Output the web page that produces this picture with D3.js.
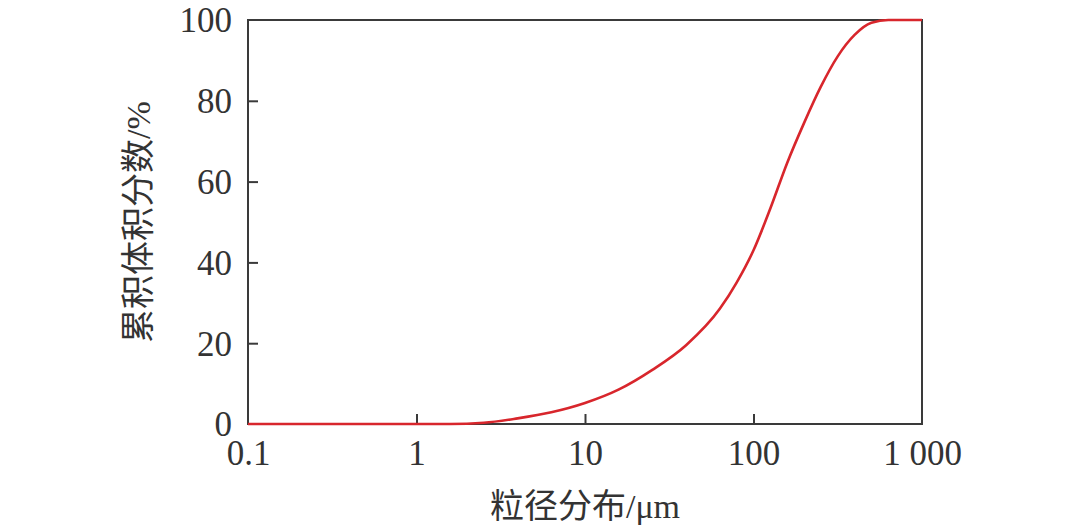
<!DOCTYPE html>
<html><head><meta charset="utf-8">
<script src="https://cdn.jsdelivr.net/npm/d3@7"></script>
<style>
body{margin:0;background:#fff;}
svg text{font-family:"Liberation Serif","Noto Sans CJK SC",serif;fill:#333;}
</style></head>
<body><svg id="c" width="1080" height="532"></svg>
<script>
const sizes = [0.1, 1, 1.58, 2.51, 3.98, 6.31, 10, 15.8, 25.1, 39.8, 63.1, 79.4, 100, 126, 158, 200, 251, 316, 398, 501, 631, 1000];
const cumulative = [0, 0, 0, 0.3, 1.4, 2.9, 5.2, 8.5, 13.4, 19.5, 28.5, 35, 43, 53.4, 64.5, 74.6, 83.5, 91, 96.3, 99.3, 100, 100];
const xTicks = [0.1, 1, 10, 100, 1000];
const xTickLabels = ["0.1", "1", "10", "100", "1 000"];
const yTicks = [0, 20, 40, 60, 80, 100];
const xTitle = "粒径分布/μm";
const yTitle = "累积体积分数/%";

const svg = d3.select("#c");
const L = 248, R = 922, T = 20, B = 424;
const x = d3.scaleLog().domain([0.1, 1000]).range([L, R]);
const y = d3.scaleLinear().domain([0, 100]).range([B, T]);
const axisColor = "#3a3a3a";

svg.append("rect").attr("x", L).attr("y", T).attr("width", R - L).attr("height", B - T)
  .attr("fill", "none").attr("stroke", axisColor).attr("stroke-width", 2);

const xa = svg.append("g").attr("transform", `translate(0,${B})`)
  .call(d3.axisBottom(x).tickValues(xTicks).tickSizeInner(-10).tickSizeOuter(0).tickPadding(16)
    .tickFormat((d, i) => xTickLabels[i]));
xa.select(".domain").remove();
xa.selectAll(".tick line").attr("stroke", axisColor).attr("stroke-width", 2)
  .filter(d => d === 0.1 || d === 1000).remove();
xa.selectAll(".tick text").attr("font-size", 35).attr("fill", "#333")
  .style("font-family", "'Liberation Serif',serif").attr("dy", "0.71em");

const ya = svg.append("g").attr("transform", `translate(${L},0)`)
  .call(d3.axisLeft(y).tickValues(yTicks).tickSizeInner(-10).tickSizeOuter(0).tickPadding(16));
ya.select(".domain").remove();
ya.selectAll(".tick line").attr("stroke", axisColor).attr("stroke-width", 2)
  .filter(d => d === 0 || d === 100).remove();
ya.selectAll(".tick text").attr("font-size", 35).attr("fill", "#333")
  .style("font-family", "'Liberation Serif',serif").attr("dy", "0.34em");

const line = d3.line().x((d, i) => x(sizes[i])).y(d => y(d)).curve(d3.curveMonotoneX);
svg.append("path").datum(cumulative).attr("d", line)
  .attr("fill", "none").attr("stroke", "#d8262c").attr("stroke-width", 2.6);

svg.append("text").attr("x", (L + R) / 2).attr("y", 518).attr("text-anchor", "middle")
  .attr("font-size", 34).text(xTitle);
svg.append("text").attr("transform", `translate(150,${(T + B) / 2}) rotate(-90)`)
  .attr("text-anchor", "middle").attr("font-size", 34).text(yTitle);
</script></body></html>
